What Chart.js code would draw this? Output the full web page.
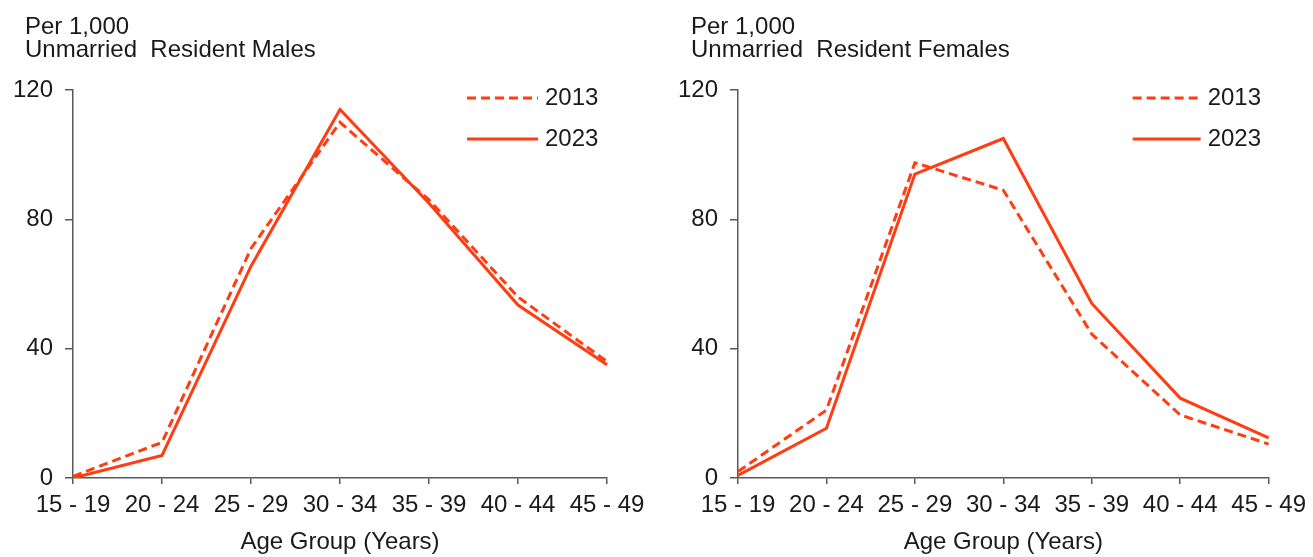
<!DOCTYPE html>
<html>
<head>
<meta charset="utf-8">
<script src="https://cdn.jsdelivr.net/npm/chart.js@4/dist/chart.umd.min.js"></script>
<style>
  html, body { margin: 0; padding: 0; background: #fff; }
  body { width: 1313px; height: 557px; position: relative; overflow: hidden; font-family: "Liberation Sans", Arial, sans-serif; }
  .panel { position: absolute; top: 0; height: 557px; }
  .heading { position: absolute; top: 15px; font-size: 24px; line-height: 22.5px; color: #1a1a1a; white-space: pre; z-index: 1; }
  canvas { position: absolute; left: 0; top: 0; }
</style>
</head>
<body>
<div class="panel" id="leftPanel" style="left:0;width:655px;">
  <div class="heading" style="left:25px;">Per 1,000
Unmarried  Resident Males</div>
  <canvas id="malesChart"></canvas>
</div>
<div class="panel" id="rightPanel" style="left:655px;width:658px;">
  <div class="heading" style="left:36px;">Per 1,000
Unmarried  Resident Females</div>
  <canvas id="femalesChart"></canvas>
</div>
<script>
// Data
const ageGroups = ['15 - 19', '20 - 24', '25 - 29', '30 - 34', '35 - 39', '40 - 44', '45 - 49'];
const years = ['2013', '2023'];
const males2013 = [0.5, 11, 71, 110, 86, 56, 36];
const males2023 = [0, 7, 65.5, 114, 85, 53.5, 35];
const females2013 = [2, 21, 97.5, 89, 44.5, 19.5, 10.5];
const females2023 = [0.8, 15.4, 94, 105, 54, 24.7, 12.4];
const yTicks = [0, 40, 80, 120];

const lineColor = '#ff3c12';
const axisColor = '#595959';
const textColor = '#1a1a1a';
const font = { family: '"Liberation Sans", Arial, sans-serif', size: 24 };

// Legend drawn as short lines in the top right of the plot
const lineLegend = {
    id: 'lineLegend',
    afterDraw(chart, args, opts) {
        const ctx = chart.ctx;
        const area = chart.chartArea;
        ctx.save();
        chart.data.datasets.forEach((ds, i) => {
            const y = area.top + 8 + i * 41;
            ctx.beginPath();
            ctx.strokeStyle = ds.borderColor;
            ctx.lineWidth = ds.borderWidth;
            ctx.setLineDash(ds.borderDash || []);
            ctx.moveTo(area.right - opts.lineStart, y);
            ctx.lineTo(area.right - opts.lineEnd, y);
            ctx.stroke();
            ctx.setLineDash([]);
            ctx.fillStyle = textColor;
            ctx.font = font.size + 'px ' + font.family;
            ctx.textBaseline = 'middle';
            ctx.textAlign = 'left';
            ctx.fillText(ds.label, area.right - opts.textStart, y);
        });
        ctx.restore();
    }
};

function makeChart(canvasId, width, areaLeft, areaRight, series2013, series2023, legendPos) {
    const canvas = document.getElementById(canvasId);
    canvas.width = width;
    canvas.height = 557;
    canvas.style.width = width + 'px';
    canvas.style.height = '557px';
    return new Chart(canvas.getContext('2d'), {
        type: 'line',
        data: {
            labels: ageGroups,
            datasets: [{
                label: years[0],
                data: series2013,
                borderColor: lineColor,
                borderWidth: 3,
                borderDash: [9, 5],
                pointRadius: 0,
                tension: 0,
            }, {
                label: years[1],
                data: series2023,
                borderColor: lineColor,
                borderWidth: 3,
                pointRadius: 0,
                tension: 0,
            }],
        },
        options: {
            responsive: false,
            animation: false,
            events: [],
            layout: { padding: { left: 0, right: width - areaRight, top: 90, bottom: 0 } },
            plugins: {
                legend: { display: false },
                tooltip: { enabled: false },
                lineLegend: legendPos,
            },
            scales: {
                x: {
                    offset: false,
                    afterFit: (scale) => { scale.height = 79; },
                    grid: { drawOnChartArea: false, drawTicks: true, tickLength: 6, color: axisColor, lineWidth: 1.5 },
                    border: { display: true, color: axisColor, width: 1.5 },
                    ticks: { color: textColor, font: font, padding: 7, maxRotation: 0, autoSkip: false },
                    title: { display: true, text: 'Age Group (Years)', color: textColor, font: font, padding: { top: 0, bottom: 0 } },
                },
                y: {
                    min: 0,
                    max: 120,
                    afterFit: (scale) => { scale.width = areaLeft; },
                    afterBuildTicks: (scale) => { scale.ticks = yTicks.map(v => ({ value: v })); },
                    grid: { drawOnChartArea: false, drawTicks: true, tickLength: 8, color: axisColor, lineWidth: 1.5 },
                    border: { display: true, color: axisColor, width: 1.5 },
                    ticks: { color: textColor, font: font, padding: 12 },
                },
            },
        },
        plugins: [lineLegend],
    });
}

makeChart('malesChart', 655, 73, 607, males2013, males2023, { lineStart: 140, lineEnd: 69, textStart: 62 });
makeChart('femalesChart', 658, 83, 615, females2013, females2023, { lineStart: 136, lineEnd: 68, textStart: 61 });
</script>
</body>
</html>
